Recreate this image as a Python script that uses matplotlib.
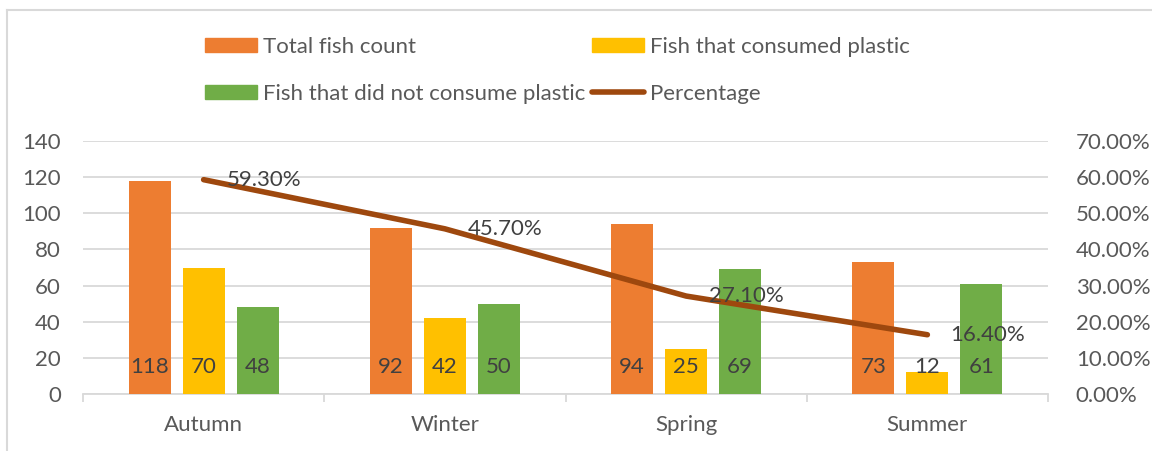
import matplotlib
matplotlib.use("Agg")
import matplotlib.pyplot as plt
from matplotlib.patches import Patch
from matplotlib.lines import Line2D
import numpy as np

seasons = ["Autumn", "Winter", "Spring", "Summer"]
total = [118, 92, 94, 73]
consumed = [70, 42, 25, 12]
not_consumed = [48, 50, 69, 61]
percentage = [59.3, 45.7, 27.1, 16.4]
series_names = ["Total fish count", "Fish that consumed plastic",
                "Fish that did not consume plastic", "Percentage"]

C_ORANGE = "#ED7D31"
C_YELLOW = "#FFC000"
C_GREEN = "#70AD47"
C_LINE = "#9E480E"
C_TEXT = "#595959"
C_GRID = "#D9D9D9"

plt.rcParams["font.family"] = ["Lato", "DejaVu Sans"]
FS = 16

W, H = 1152, 451
fig = plt.figure(figsize=(W / 100, H / 100), dpi=100)

def fx(px):
    return px / W

def fy(py):
    return 1 - py / H

ax = fig.add_axes([fx(83), fy(394), fx(1048) - fx(83), fy(141) - fy(394)])
ax2 = ax.twinx()

x = np.arange(len(seasons))
bw = 42 / 241.5
step = 54 / 241.5
colors = [C_ORANGE, C_YELLOW, C_GREEN]
for i, (vals, c) in enumerate(zip([total, consumed, not_consumed], colors)):
    xs = x + (i - 1) * step
    ax.bar(xs, vals, width=bw, color=c, zorder=3)
    for xi, v in zip(xs, vals):
        ax.annotate(str(v), (xi, 0), xytext=(0, 27), textcoords="offset pixels",
                    ha="center", va="center", fontsize=FS, color="#404040", zorder=5)

ax.set_xlim(-0.5, len(seasons) - 0.5)
ax.set_ylim(0, 140)
ax.set_yticks(np.arange(0, 141, 20))
ax.yaxis.grid(True, color=C_GRID, linewidth=1.3, zorder=0)
ax.set_axisbelow(True)
for s in ["top", "right", "left"]:
    ax.spines[s].set_visible(False)
ax.spines["bottom"].set_color(C_GRID)
ax.spines["bottom"].set_linewidth(1.3)
ax.set_xticks(x)
ax.set_xticklabels(seasons)
ax.set_xticks(np.arange(-0.5, len(seasons), 1), minor=True)
ax.tick_params(axis="x", which="major", length=0, pad=15, labelsize=FS, labelcolor=C_TEXT)
ax.tick_params(axis="x", which="minor", length=6, width=1.3, color=C_GRID)
ax.tick_params(axis="y", length=0, pad=16, labelsize=FS, labelcolor=C_TEXT)

ax2.plot(x, percentage, color=C_LINE, linewidth=4.0, solid_capstyle="round",
         solid_joinstyle="round", zorder=4)
for xi, p in zip(x, percentage):
    ax2.annotate(f"{p:.2f}%", (xi, p), xytext=(23, 0), textcoords="offset pixels",
                 ha="left", va="center", fontsize=FS, color="#404040", zorder=6)
ax2.set_ylim(0, 70)
ax2.set_yticks(np.arange(0, 71, 10))
ax2.set_yticklabels([f"{v:.2f}%" for v in np.arange(0, 71, 10)])
ax2.tick_params(axis="y", length=0, pad=20, labelsize=FS, labelcolor=C_TEXT)
for s in ax2.spines.values():
    s.set_visible(False)
ax2.patch.set_visible(False)

handles = [Patch(color=C_ORANGE), Patch(color=C_YELLOW), Patch(color=C_GREEN),
           Line2D([0], [0], color=C_LINE, linewidth=4.0, solid_capstyle="round")]
order = [0, 2, 1, 3]
fig.legend([handles[i] for i in order], [series_names[i] for i in order],
           ncol=2, loc="upper left", bbox_to_anchor=(fx(205), fy(37)),
           frameon=False, fontsize=FS, labelcolor=C_TEXT,
           handlelength=2.35, handleheight=0.6, handletextpad=0.25,
           columnspacing=0.3, labelspacing=1.2, borderaxespad=0, borderpad=0)

# outer chart border
fig.add_artist(Line2D([fx(7), 1], [fy(9.5), fy(9.5)], color=C_GRID, linewidth=1.5))
fig.add_artist(Line2D([fx(7), fx(7)], [0, fy(9.5)], color=C_GRID, linewidth=1.5))

fig.savefig("out.png", dpi=100)
